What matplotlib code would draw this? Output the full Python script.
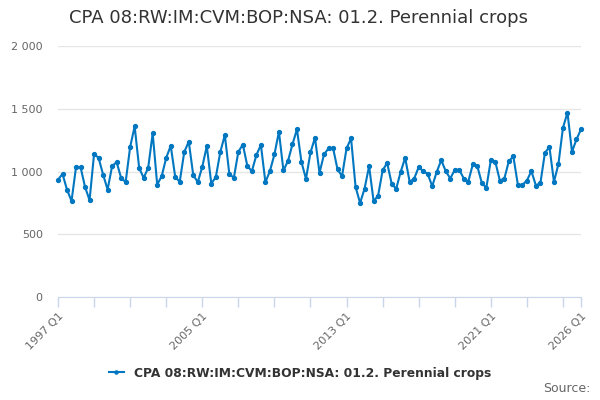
import matplotlib
matplotlib.use('Agg')
import matplotlib.pyplot as plt
import numpy as np

title = 'CPA 08:RW:IM:CVM:BOP:NSA: 01.2. Perennial crops'

# quarterly values, 1997 Q1 .. 2026 Q1
values = [
    935, 980, 855, 765,
    1035, 1035, 877, 771,
    1139, 1109, 976, 856,
    1043, 1075, 949, 915,
    1195, 1360, 1029, 949,
    1029, 1305, 896, 963,
    1109, 1205, 957, 918,
    1155, 1238, 971, 915,
    1037, 1203, 904, 955,
    1155, 1291, 981, 949,
    1157, 1215, 1043, 1003,
    1131, 1212, 915, 1003,
    1136, 1317, 1008, 1083,
    1216, 1336, 1075, 941,
    1152, 1269, 989, 1136,
    1184, 1189, 1016, 963,
    1184, 1264, 877, 749,
    864, 1043, 763, 808,
    1008, 1069, 904, 861,
    997, 1109, 917, 944,
    1035, 1003, 981, 883,
    997, 1090, 1003, 944,
    1013, 1013, 944, 920,
    1056, 1043, 909, 869,
    1091, 1077, 928, 944,
    1083, 1120, 893, 893,
    928, 1003, 888, 909,
    1149, 1195, 917, 1061,
    1349, 1469, 1157, 1256,
    1336,
]
quarters = ['%d Q%d' % (1997 + i // 4, i % 4 + 1) for i in range(len(values))]
shown_labels = ['1997 Q1', '2005 Q1', '2013 Q1', '2021 Q1', '2026 Q1']
y_ticks = [0, 500, 1000, 1500, 2000]

x = np.arange(len(values))
fig = plt.figure(figsize=(6, 4), dpi=100)
ax = fig.add_axes([58 / 600, 1 - 297 / 400, 523 / 600, 251 / 400])

ax.plot(x, values, color='#0077c0', lw=1.5, marker='o', markersize=2.8,
        label=title, zorder=3, clip_on=False)

ax.set_xlim(0, len(values) - 1)
ax.set_ylim(0, 2000)

tick_pos = list(range(0, len(values) - 1, 8)) + [len(values) - 1]
ax.set_xticks(tick_pos)
ax.set_xticklabels([quarters[p] if quarters[p] in shown_labels else '' for p in tick_pos],
                   rotation=45, ha='right', rotation_mode='anchor', fontsize=8, color='#666666')
ax.tick_params(axis='x', length=7, color='#ccd6eb', width=1, pad=3)

ax.set_yticks(y_ticks)
ax.set_yticklabels(['{:,}'.format(v).replace(',', ' ') for v in y_ticks], fontsize=8, color='#666666')
ax.tick_params(axis='y', length=0, pad=11)
ax.yaxis.grid(True, color='#e6e6e6', lw=1)
ax.set_axisbelow(True)

for s in ['top', 'right', 'left']:
    ax.spines[s].set_visible(False)
ax.spines['bottom'].set_color('#ccd6eb')
ax.spines['bottom'].set_zorder(1)

fig.text(0.497, 1 - 18 / 400, title, ha='center', va='center', fontsize=13, color='#333333')

leg = fig.legend(loc='center', bbox_to_anchor=(0.5, 1 - 373 / 400), frameon=False,
                 prop={'weight': 'bold', 'size': 8.8}, handlelength=1.2, markerscale=0.8)
for t in leg.get_texts():
    t.set_color('#333333')

fig.text(590 / 600, 1 - 389 / 400, 'Source:', ha='right', va='center', fontsize=9, color='#666666')

fig.savefig('out.png', dpi=100)
